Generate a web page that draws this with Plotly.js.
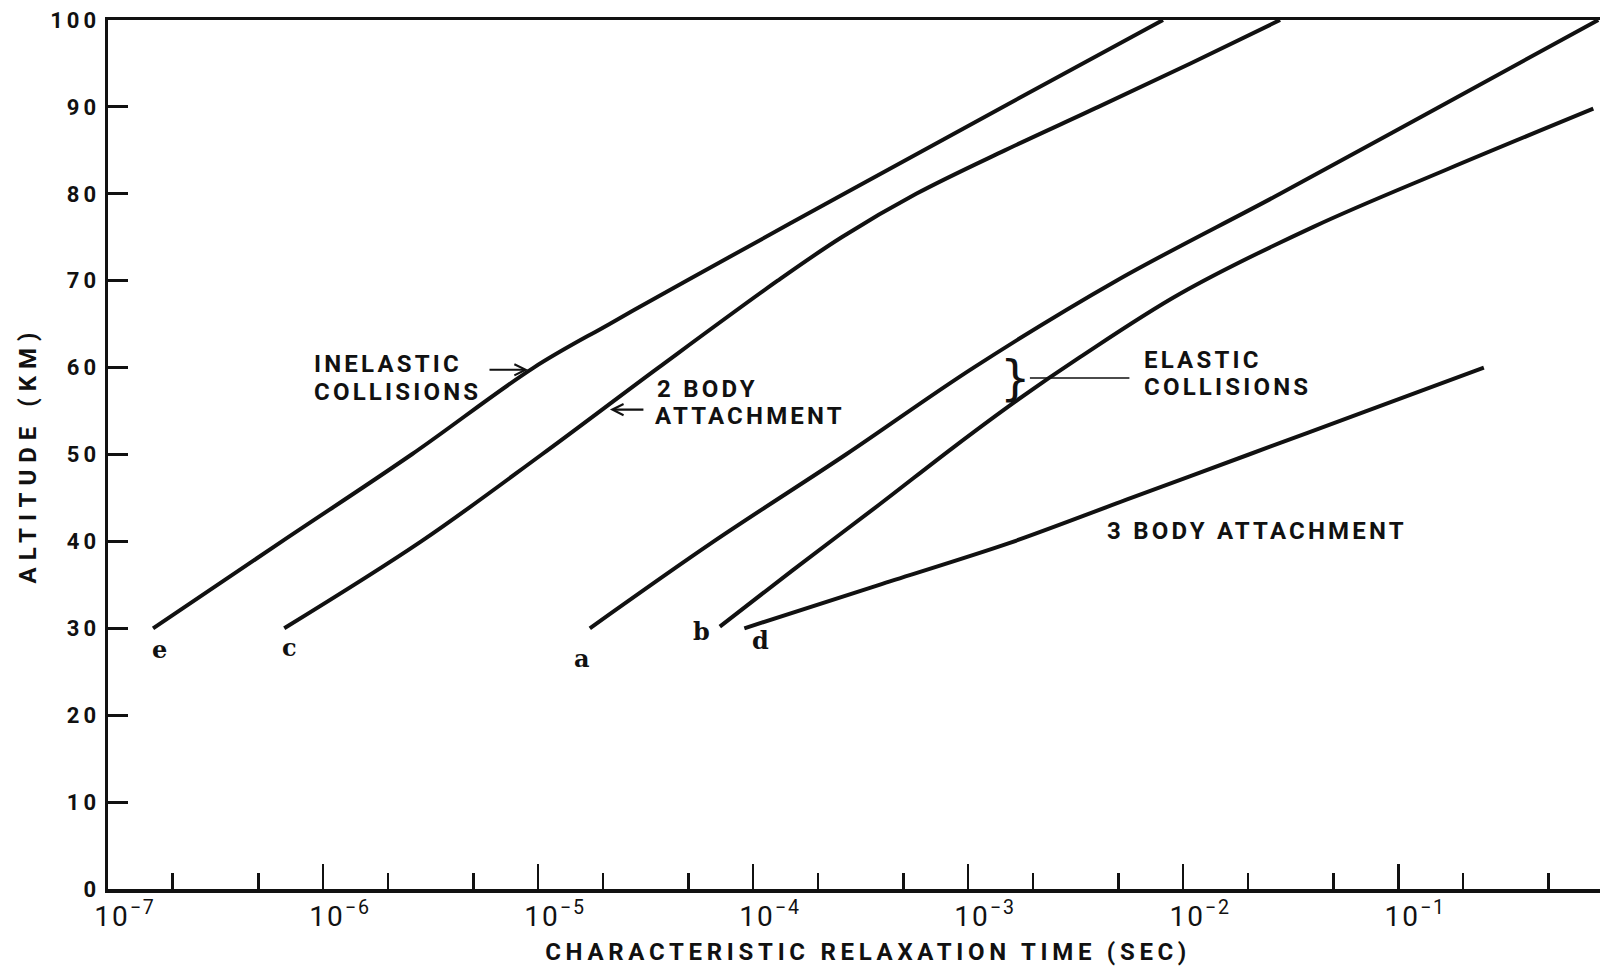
<!DOCTYPE html>
<html>
<head>
<meta charset="utf-8">
<script src="https://cdn.plot.ly/plotly-3.0.1.min.js"></script>
<style>
html,body{margin:0;padding:0;background:#fff;}
#chart{width:1602px;height:970px;}
.ytick text{letter-spacing:4px;}
.xtick text{letter-spacing:2px;}
.xtitle{letter-spacing:4.7px;transform:translate(14px,0px);}
.ytitle{letter-spacing:7px;}
.annotation-text{letter-spacing:3.2px;}
</style>
</head>
<body>
<div id="chart"></div>
<script>
// Inelastic collisions (curve e)
const altInelastic = [30, 40, 50, 60, 65, 70, 80, 90, 100];
const tauInelastic = [1.62e-7, 6.44e-7, 2.58e-6, 9.55e-6, 2.14e-5, 4.9e-5, 2.65e-4, 1.45e-3, 8.05e-3];
// 2 body attachment (curve c)
const altTwoBody = [30, 40, 50, 60, 70, 75, 80, 85, 90, 95, 100];
const tauTwoBody = [6.6e-7, 2.86e-6, 1.04e-5, 3.63e-5, 1.3e-4, 2.58e-4, 5.73e-4, 1.48e-3, 4.03e-3, 1.08e-2, 2.82e-2];
// Elastic collisions (curve a)
const altElasticA = [30, 40, 50, 60, 70, 80, 90, 100];
const tauElasticA = [1.74e-5, 6.56e-5, 2.7e-4, 1.06e-3, 4.89e-3, 2.82e-2, 0.155, 0.851];
// Elastic collisions (curve b)
const altElasticB = [30.2, 36.7, 44.3, 50.8, 56.2, 61.2, 68.5, 76.2, 82.8, 89.8];
const tauElasticB = [7.0e-5, 1.53e-4, 3.89e-4, 8.51e-4, 1.68e-3, 3.31e-3, 9.66e-3, 4.03e-2, 0.168, 0.807];
// 3 body attachment (curve d)
const altThreeBody = [30, 35, 39.8, 45, 50, 55, 60];
const tauThreeBody = [9.1e-5, 3.86e-4, 1.55e-3, 5.73e-3, 2.02e-2, 7.1e-2, 0.25];

// Axis ticks
const decadeTicks = [1e-7, 1e-6, 1e-5, 1e-4, 1e-3, 1e-2, 1e-1];
const decadeLabels = ['10<sup>−7</sup>', '10<sup>−6</sup>', '10<sup>−5</sup>', '10<sup>−4</sup>', '10<sup>−3</sup>', '10<sup>−2</sup>', '10<sup>−1</sup>'];
const minorTicks = [2e-7, 5e-7, 2e-6, 5e-6, 2e-5, 5e-5, 2e-4, 5e-4, 2e-3, 5e-3, 2e-2, 5e-2, 2e-1, 5e-1];
const altTicks = [0, 10, 20, 30, 40, 50, 60, 70, 80, 90, 100];

const ink = '#111111';
const sans = 'Roboto, "DejaVu Sans", sans-serif';
const serif = '"DejaVu Serif", "Liberation Serif", serif';

function curve(x, y, name, sm) {
  return {
    type: 'scatter', mode: 'lines', x: x, y: y, name: name,
    line: {color: ink, width: 4, shape: 'spline', smoothing: sm},
    hoverinfo: 'x+y+name'
  };
}

const traces = [
  curve(tauInelastic, altInelastic, 'Inelastic collisions', 1.0),
  curve(tauTwoBody, altTwoBody, '2 body attachment', 1.0),
  curve(tauElasticA, altElasticA, 'Elastic collisions (a)', 1.0),
  curve(tauElasticB, altElasticB, 'Elastic collisions (b)', 1.0),
  curve(tauThreeBody, altThreeBody, '3 body attachment', 0.8)
];

const lab = (text, x, y) => ({
  text: text, x: x, y: y, xref: 'x', yref: 'y', showarrow: false,
  xanchor: 'left', yanchor: 'middle',
  font: {family: sans, size: 24, color: ink, weight: 'bold'}
});
const letter = (text, x, y) => ({
  text: text, x: x, y: y, xref: 'x', yref: 'y', showarrow: false,
  xanchor: 'center', yanchor: 'middle',
  font: {family: serif, size: 24, color: ink, weight: 'bold'}
});
const arrow = (x, y, ax, head, width) => ({
  text: '', x: x, y: y, xref: 'x', yref: 'y', ax: ax, ay: 0, axref: 'pixel', ayref: 'pixel',
  showarrow: true, arrowhead: head, arrowsize: 1, arrowwidth: width, arrowcolor: ink, standoff: 0, startstandoff: 0
});

const annotations = [
  lab('INELASTIC', -6.05, 60.4),
  lab('COLLISIONS', -6.05, 57.25),
  arrow(-5.047, 59.75, -40, 5, 2.2),
  lab('2 BODY', -4.457, 57.56),
  lab('ATTACHMENT', -4.465, 54.4),
  arrow(-4.666, 55.17, 35, 5, 2.2),
  lab('ELASTIC', -2.193, 60.9),
  lab('COLLISIONS', -2.193, 57.8),
  arrow(-2.713, 58.8, 101, 0, 1.6),
  {text: '}', x: -2.775, y: 58.75, xref: 'x', yref: 'y', showarrow: false, xanchor: 'center', yanchor: 'middle',
   font: {family: '"DejaVu Sans"', size: 48, color: ink, weight: 'normal'}},
  lab('3 BODY ATTACHMENT', -2.364, 41.14),
  letter('e', -6.752, 27.6),
  letter('c', -6.147, 27.8),
  letter('a', -4.791, 26.5),
  letter('b', -4.233, 29.6),
  letter('d', -3.961, 28.6)
];

const layout = {
  width: 1602, height: 970,
  margin: {l: 108, r: 2, t: 20, b: 81},
  paper_bgcolor: '#ffffff', plot_bgcolor: '#ffffff',
  showlegend: false,
  font: {family: sans, color: ink},
  xaxis: {
    type: 'log', range: [-7, -0.062], showgrid: false, zeroline: false,
    showline: true, linewidth: 3.5, linecolor: ink, mirror: true,
    tickmode: 'array', tickvals: decadeTicks, ticktext: decadeLabels,
    ticks: 'inside', ticklen: 25, tickwidth: 2.5, tickcolor: ink,
    tickfont: {family: sans, size: 28, color: ink},
    ticklabelshift: 17, ticklabelstandoff: 0,
    minor: {tickmode: 'array', tickvals: minorTicks, ticks: 'inside', ticklen: 16, tickwidth: 2.5, tickcolor: ink, showgrid: false},
    title: {text: 'CHARACTERISTIC RELAXATION TIME (SEC)', font: {family: sans, size: 24, color: ink, weight: 'bold'}, standoff: 12}
  },
  yaxis: {
    range: [0, 100], showgrid: false, zeroline: false,
    showline: true, linewidth: 3.5, linecolor: ink, mirror: false,
    tickmode: 'array', tickvals: altTicks,
    ticks: 'inside', ticklen: 20, tickwidth: 3, tickcolor: ink,
    tickfont: {family: sans, size: 22, color: ink, weight: 'bold'},
    ticklabelstandoff: 0,
    title: {text: 'ALTITUDE (KM)', font: {family: sans, size: 24, color: ink, weight: 'bold'}, standoff: 8}
  },
  annotations: annotations
};

Plotly.newPlot('chart', traces, layout, {displayModeBar: false, staticPlot: true});
</script>
</body>
</html>
